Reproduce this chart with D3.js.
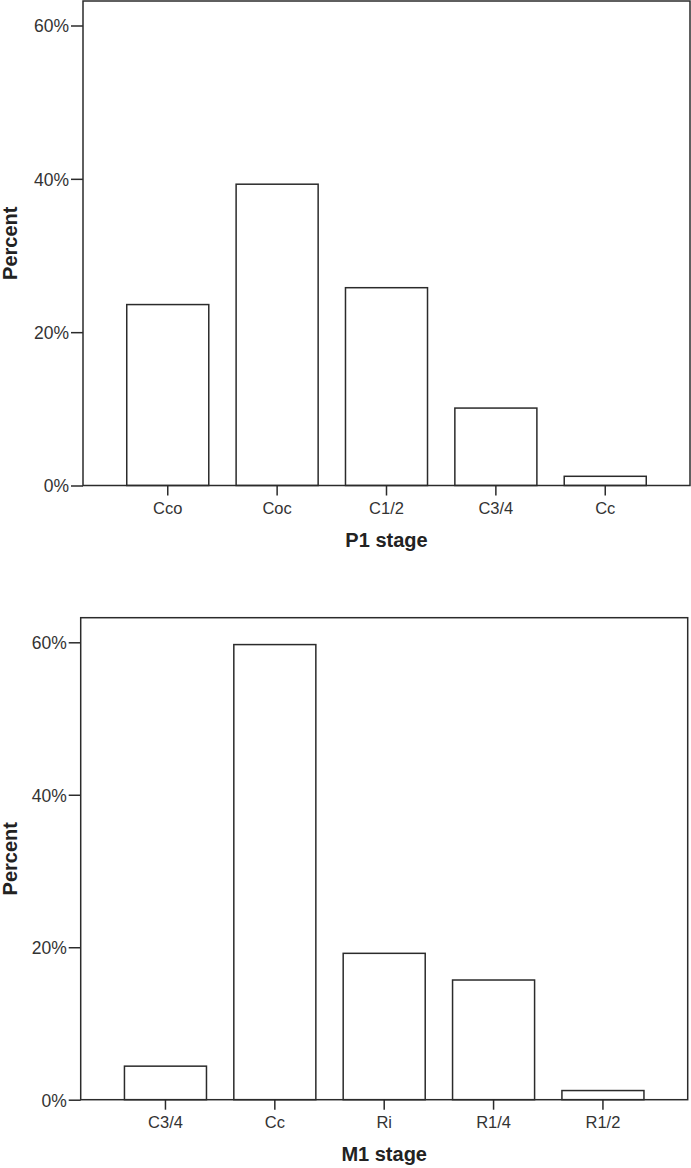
<!DOCTYPE html>
<html lang="en">
<head>
  <meta charset="UTF-8">
  <title>P1 / M1 stage</title>
  <style>
    body { margin: 0; background: #fff; }
    #chart text { font-family: "Liberation Sans", Arial, sans-serif; }
  </style>
</head>
<body>

<div id="chart"></div>

<script src="https://d3js.org/d3.v7.min.js"></script>
<script>

// values
const p1Stages = ["Cco", "Coc", "C1/2", "C3/4", "Cc"];
const p1Percent = [23.6, 39.3, 25.8, 10.1, 1.2];

const m1Stages = ["C3/4", "Cc", "Ri", "R1/4", "R1/2"];
const m1Percent = [4.4, 59.7, 19.2, 15.7, 1.2];

const yTicks = [0, 20, 40, 60];

const width = 691;
const height = 1168;

const svg = d3.select("#chart").append("svg")
  .attr("width", width)
  .attr("height", height);

// one panel = frame + bars + axes
function drawPanel(cats, vals, xTitle, box) {
  const g = svg.append("g");

  const x = d3.scaleBand()
    .domain(cats)
    .range([box.left, box.right])
    .paddingInner(0.25)
    .paddingOuter(0.4);

  const y = d3.scaleLinear()
    .domain([0, 60])
    .range([box.y0, box.y60]);

  // bars
  g.selectAll("rect.bar")
    .data(vals)
    .enter().append("rect")
    .attr("class", "bar")
    .attr("x", (d, i) => x(cats[i]))
    .attr("y", d => y(d))
    .attr("width", x.bandwidth())
    .attr("height", d => y(0) - y(d))
    .attr("fill", "#fff")
    .attr("stroke", "#2b2b2b")
    .attr("stroke-width", 1.5);

  // frame
  g.append("rect")
    .attr("x", box.left)
    .attr("y", box.top)
    .attr("width", box.right - box.left)
    .attr("height", box.y0 - box.top)
    .attr("fill", "none")
    .attr("stroke", "#2b2b2b")
    .attr("stroke-width", 1.5);

  const yAxis = g.append("g")
    .attr("transform", `translate(${box.left},0)`)
    .call(d3.axisLeft(y).tickValues(yTicks).tickFormat(d => d + "%")
      .tickSize(12).tickPadding(2));
  yAxis.select(".domain").remove();
  yAxis.selectAll("line").attr("stroke", "#2b2b2b").attr("stroke-width", 1.5);
  yAxis.selectAll("text")
    .attr("font-size", 17.5)
    .attr("fill", "#333")
    .attr("font-family", "Liberation Sans, Arial, sans-serif")
    .attr("dy", "0.36em");

  const xAxis = g.append("g")
    .attr("transform", `translate(0,${box.y0})`)
    .call(d3.axisBottom(x).tickSize(10).tickSizeOuter(0));
  xAxis.select(".domain").remove();
  xAxis.selectAll("line").attr("stroke", "#2b2b2b").attr("stroke-width", 1.5);
  xAxis.selectAll("text")
    .attr("y", 28)
    .attr("dy", 0)
    .attr("font-size", 16.5)
    .attr("fill", "#333")
    .attr("font-family", "Liberation Sans, Arial, sans-serif");

  // axis titles
  g.append("text")
    .attr("x", (box.left + box.right) / 2)
    .attr("y", box.y0 + 61)
    .attr("text-anchor", "middle")
    .attr("font-size", 20)
    .attr("font-weight", "bold")
    .attr("fill", "#222")
    .text(xTitle);

  g.append("text")
    .attr("transform", `translate(17,${(box.top + box.y0) / 2}) rotate(-90)`)
    .attr("text-anchor", "middle")
    .attr("font-size", 20)
    .attr("font-weight", "bold")
    .attr("fill", "#222")
    .text("Percent");
}

drawPanel(p1Stages, p1Percent, "P1 stage",
  { left: 83, right: 690, top: 1, y0: 485.5, y60: 25.5 });

drawPanel(m1Stages, m1Percent, "M1 stage",
  { left: 80.7, right: 687.7, top: 617.7, y0: 1099.7, y60: 642.3 });

</script>

</body>
</html>
